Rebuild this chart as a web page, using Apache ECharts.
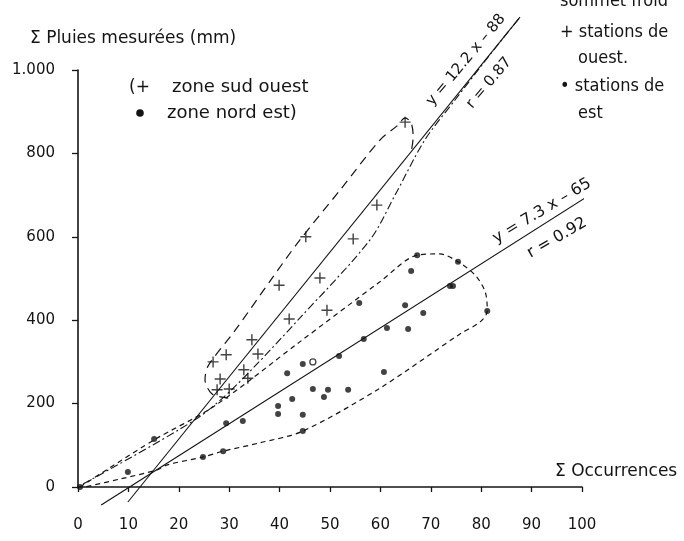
<!DOCTYPE html>
<html><head><meta charset="utf-8">
<script src="https://cdn.jsdelivr.net/npm/echarts@6/dist/echarts.min.js"></script>
<style>html,body{margin:0;padding:0;background:#fff}#c{width:684px;height:541px}</style>
</head><body><div id="c"></div><script>
// ---- axis ticks ----
const xTickValues = [0,10,20,30,40,50,60,70,80,90,100];
const xTickLabels = ['0','10','20','30','40','50','60','70','80','90','100'];
const yTickValues = [0,200,400,600,800,1000];
const yTickLabels = ['0','200','400','600','800','1.000'];

// ---- zone sud ouest (+) ----
const soOcc   = [64.9,59.3,45.2,54.6,48.0,39.9,49.4,41.9,34.5,35.7,29.4,26.8,32.9,33.7,28.2,30.0,27.6];
const soPluie = [875, 676, 600, 595, 501, 484, 424, 403, 353, 319, 317, 300, 281, 261, 259, 235, 233];

// ---- zone nord est (dots) ----
const neOcc   = [67.3,75.4,66.1,73.8,74.4,55.8,64.9,68.5,81.2,61.3,65.5,56.7,51.8,44.6,41.5,60.7,46.6,49.6,53.6,48.8,42.5,39.7,39.7,44.6,32.7,29.4,44.6,15.1,28.8,24.8,9.9,0.4];
const nePluie = [556, 540, 518, 482, 482, 441, 436, 417, 422, 381, 379, 355, 314, 295, 273, 276, 235, 233, 233, 216, 211, 194, 175, 173, 158, 153, 134, 115, 86,  72,  36, 0];
const neOpenOcc = [46.6];
const neOpenPluie = [300];

// ---- regression lines (end points) ----
const soRegOcc = [9.9, 87.7];
const soRegPluie = [-36, 1127];
const neRegOcc = [4.6, 106.2];
const neRegPluie = [-43, 736];

// ---- dash-dot line (sud ouest) ----
const soDashDotOcc   = [1.0, 23.2, 30.8, 44.0, 57.9, 62.9, 68.8, 74.8, 81.7, 87.7];
const soDashDotPluie = [7,   161,  237,  405,  592,  700,  832,  928,  1036, 1127];

// ---- envelope sud ouest (long dashes) ----
const soEnvOcc   = [29.8, 26.6, 25.2, 25.8, 31.2, 38.7, 44.0, 52.0, 59.9, 63.3, 64.9, 66.1, 66.5, 66.1];
const soEnvPluie = [213,  223,  257,  290,  376,  504,  592,  712,  832,  866,  885,  873,  839,  803];

// ---- envelope nord est (short dashes) ----
const neEnvOcc   = [0.4, 15.1, 26.8, 44.0, 59.9, 67.3, 71.8, 75.4, 78.8, 80.8, 81.2, 79.8, 75.8, 59.9, 44.6, 36.1, 28.8, 24.8, 17.7, 15.7, 8.3, 1.4];
const neEnvPluie = [0,   113,  192,  348,  492,  556,  559,  540,  508,  468,  422,  396,  367,  237,  134,  106,  86,   72,   53,   41,   19,  0];

// ---- texts ----
const yAxisTitle = 'Σ Pluies mesurées (mm)';
const xAxisTitle = 'Σ Occurrences';
const legendSO = 'zone sud ouest';
const legendNE = 'zone nord est)';
const eqSO = 'y = 12.2 x – 88';
const rSO = 'r = 0.87';
const eqNE = 'y = 7.3 x – 65';
const rNE = 'r = 0.92';
const noteLines = ['sommet froid', '+ stations de', 'ouest.', '• stations de', 'est'];

const zip = (a, b) => a.map((v, i) => [v, b[i]]);
const INK = '#141414';
const FONT = 'DejaVu Sans';
const NOTE_FONT = '18px "DejaVu Sans Condensed", "DejaVu Sans"';
const plusPath = 'path://M4.35,0H5.65V4.35H10V5.65H5.65V10H4.35V5.65H0V4.35H4.35Z';
const deg = d => d * Math.PI / 180;

const chart = echarts.init(document.getElementById('c'), null, {renderer: 'canvas'});
chart.setOption({
  backgroundColor: '#ffffff',
  animation: false,
  grid: {left: 78, right: 102, top: 70, bottom: 54, containLabel: false},
  xAxis: {
    type: 'value', min: 0, max: 100, interval: 10,
    axisLine: {show: true, onZero: false, lineStyle: {color: INK, width: 1.6}},
    axisTick: {show: true, inside: false, length: 5, lineStyle: {color: INK, width: 1.3}},
    axisLabel: {margin: 31, color: INK, fontFamily: FONT, fontSize: 15,
      formatter: v => { const i = xTickValues.indexOf(v); return i >= 0 ? xTickLabels[i] : ''; }},
    splitLine: {show: false}
  },
  yAxis: {
    type: 'value', min: 0, max: 1000, interval: 200,
    axisLine: {show: true, onZero: false, lineStyle: {color: INK, width: 1.6}},
    axisTick: {show: true, inside: false, length: 6, lineStyle: {color: INK, width: 1.3}},
    axisLabel: {margin: 23, color: INK, fontFamily: FONT, fontSize: 15,
      formatter: v => { const i = yTickValues.indexOf(v); return i >= 0 ? yTickLabels[i] : ''; }},
    splitLine: {show: false}
  },
  series: [
    {type: 'line', data: zip(soEnvOcc, soEnvPluie), smooth: 0.3, symbol: 'none', clip: false,
     lineStyle: {color: INK, width: 1.2, type: [9, 6]}, z: 2},
    {type: 'line', data: zip(neEnvOcc, neEnvPluie), smooth: 0.3, symbol: 'none', clip: false,
     lineStyle: {color: INK, width: 1.2, type: [5, 4]}, z: 2},
    {type: 'line', data: zip(soDashDotOcc, soDashDotPluie), smooth: 0.3, symbol: 'none', clip: false,
     lineStyle: {color: INK, width: 1.1, type: [8, 3, 2, 3]}, z: 2},
    {type: 'line', data: zip(soRegOcc, soRegPluie), symbol: 'none', clip: false,
     lineStyle: {color: INK, width: 1.1, type: 'solid'}, z: 3},
    {type: 'line', data: zip(neRegOcc, neRegPluie), symbol: 'none', clip: false,
     lineStyle: {color: INK, width: 1.2, type: 'solid'}, z: 3},
    {type: 'scatter', data: zip(soOcc, soPluie), symbol: plusPath, symbolSize: 11, clip: false,
     itemStyle: {color: INK}, z: 4},
    {type: 'scatter', data: zip(neOcc, nePluie), symbol: 'circle', symbolSize: 6, clip: false,
     itemStyle: {color: INK}, z: 4},
    {type: 'scatter', data: zip(neOpenOcc, neOpenPluie), symbol: 'circle', symbolSize: 6, clip: false,
     itemStyle: {color: '#fff', borderColor: INK, borderWidth: 1.3}, z: 4}
  ],
  graphic: [
    {type: 'text', x: 30, y: 39, style: {text: yAxisTitle, font: '17px "DejaVu Sans"', fill: INK, verticalAlign: 'middle'}},
    {type: 'text', x: 555, y: 472, style: {text: xAxisTitle, font: '17px "DejaVu Sans"', fill: INK, verticalAlign: 'middle'}},
    {type: 'text', x: 129, y: 88, style: {text: '(+', font: '17px "DejaVu Sans"', fill: INK, verticalAlign: 'middle'}},
    {type: 'text', x: 172, y: 87, style: {text: legendSO, font: '18px "DejaVu Sans"', fill: INK, verticalAlign: 'middle'}},
    {type: 'circle', shape: {cx: 140, cy: 113, r: 3.8}, style: {fill: INK}},
    {type: 'text', x: 167, y: 113, style: {text: legendNE, font: '18px "DejaVu Sans"', fill: INK, verticalAlign: 'middle'}},
    {type: 'text', x: 466, y: 60, rotation: deg(50),
     style: {text: eqSO, font: '15px "DejaVu Sans"', fill: INK, align: 'center', verticalAlign: 'middle'}},
    {type: 'text', x: 489, y: 83, rotation: deg(50),
     style: {text: rSO, font: '15px "DejaVu Sans"', fill: INK, align: 'center', verticalAlign: 'middle'}},
    {type: 'text', x: 542, y: 211, rotation: deg(31),
     style: {text: eqNE, font: '16px "DejaVu Sans"', fill: INK, align: 'center', verticalAlign: 'middle'}},
    {type: 'text', x: 557, y: 238, rotation: deg(30),
     style: {text: rNE, font: '16px "DejaVu Sans"', fill: INK, align: 'center', verticalAlign: 'middle'}},
    {type: 'text', x: 560, y: 1, style: {text: noteLines[0], font: NOTE_FONT, fill: INK, verticalAlign: 'middle'}},
    {type: 'text', x: 560, y: 32, style: {text: noteLines[1], font: NOTE_FONT, fill: INK, verticalAlign: 'middle'}},
    {type: 'text', x: 578, y: 58, style: {text: noteLines[2], font: NOTE_FONT, fill: INK, verticalAlign: 'middle'}},
    {type: 'text', x: 560, y: 86, style: {text: noteLines[3], font: NOTE_FONT, fill: INK, verticalAlign: 'middle'}},
    {type: 'text', x: 578, y: 113, style: {text: noteLines[4], font: NOTE_FONT, fill: INK, verticalAlign: 'middle'}}
  ]
});
</script></body></html>
